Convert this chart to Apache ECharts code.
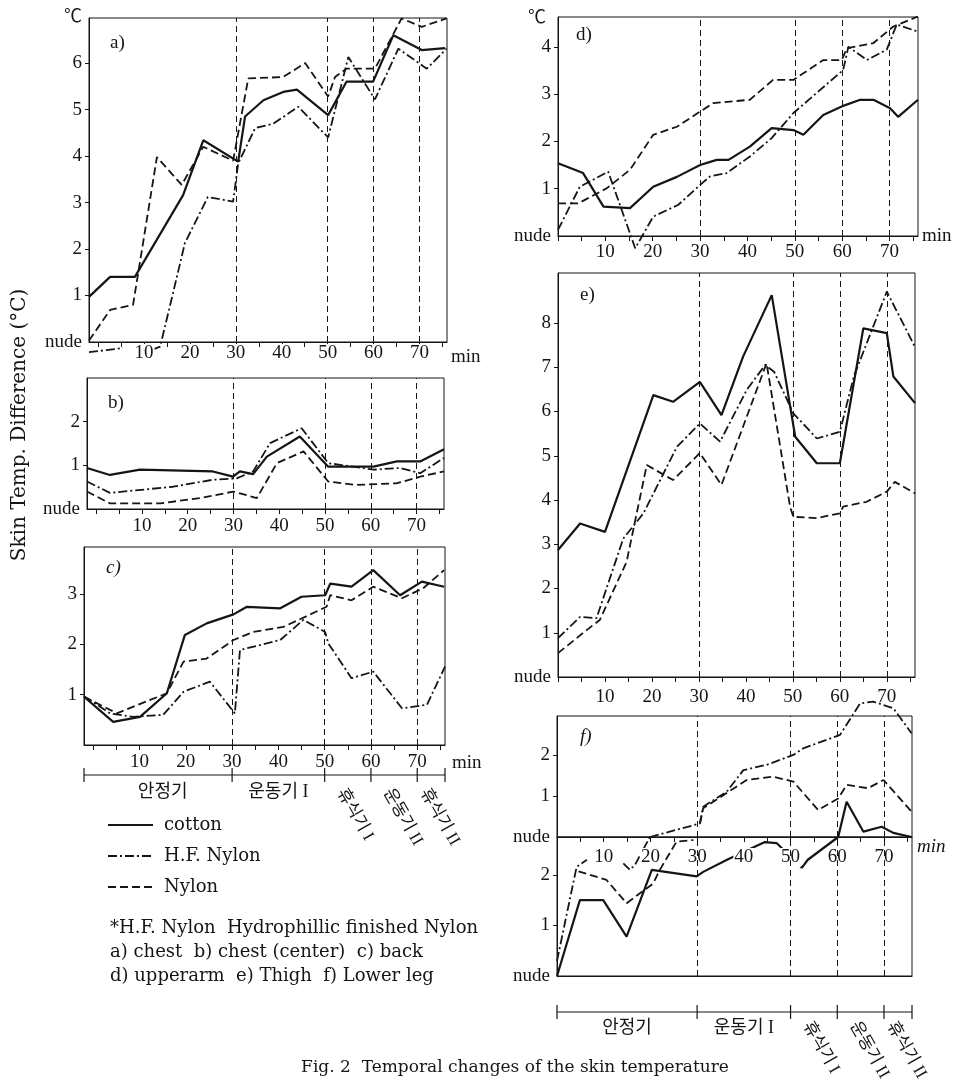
<!DOCTYPE html>
<html><head><meta charset="utf-8">
<script src="https://cdn.jsdelivr.net/npm/echarts@6/dist/echarts.min.js"></script>
<style>html,body{margin:0;padding:0;background:#fff}#c{width:960px;height:1087px}</style>
</head><body><div id="c"></div>
<script>
// ---------- data (minutes, skin temp difference vs nude, deg C) ----------
const xTickValues = [0,5,10,15,20,25,30,35,40,45,50,55,60,65,70,75];
const xLabelValues = [10,20,30,40,50,60,70];
const phaseBounds = [30,50,60,70];
const phaseNames = ['안정기','운동기 I','휴식기 I','운동기 II','휴식기 II'];
const seriesNames = ['cotton','H.F. Nylon','Nylon'];

// a) chest
const aCottonX=[-2,2.6,8,18.5,22.9,30.5,32,36,40.3,43.3,50.1,54.1,59.9,64.3,70.5,75.6];
const aCottonY=[0.97,1.4,1.4,3.16,4.34,3.88,4.85,5.2,5.38,5.43,4.88,5.6,5.6,6.6,6.28,6.32];
const aHfX=[-2,5.4,8,11.7,13.5,16.3,18.9,23.9,29.4,30.5,34.2,38.2,43.6,50.1,54.5,60.3,65.4,71.6,75.9];
const aHfY=[-0.22,-0.13,null,-0.17,-0.1,1.05,2.13,3.12,3.02,3.84,4.6,4.7,5.06,4.4,6.13,5.22,6.31,5.88,6.31];
const aNyX=[-2,2.6,7.6,12.8,18.2,22.9,29.4,32.7,40.3,45.1,50.1,51.6,54.1,60.3,66.1,70.5,75.9];
const aNyY=[0.03,0.69,0.8,3.98,3.38,4.2,3.9,5.67,5.7,6.0,5.28,5.7,5.88,5.88,6.96,6.78,6.96];
// b) chest (center)
const bCottonX=[-2,3,9.6,25.5,29.9,31.4,34.3,37.3,44.5,50.7,60.6,65.7,70.8,76];
const bCottonY=[0.94,0.78,0.9,0.86,0.74,0.86,0.8,1.2,1.66,0.97,0.97,1.09,1.09,1.37];
const bHfX=[-2,3,16.8,25.5,30.7,34.3,38,44.9,50.7,60.6,66.4,70.8,76];
const bHfY=[0.63,0.37,0.51,0.67,0.7,0.86,1.51,1.85,1.05,0.9,0.94,0.82,1.17];
const bNyX=[-2,3,14,22.7,30,35.1,39.5,45.3,50.7,56.9,65.7,70.8,76];
const bNyY=[0.4,0.13,0.13,0.25,0.4,0.25,1.05,1.32,0.63,0.55,0.59,0.74,0.86];
// c) back
const cCottonX=[-2,4.3,10.1,15.9,19.8,24.5,30.3,33.2,40.4,45,50.1,51.2,55.8,60.5,66.3,71,75.8];
const cCottonY=[0.96,0.46,0.56,1.03,2.19,2.42,2.6,2.75,2.72,2.95,2.98,3.21,3.15,3.48,2.98,3.25,3.15];
const cHfX=[-2,3.6,8.6,15.1,19.5,25.2,30.6,31.7,40.4,45.4,50.1,50.8,55.8,60.5,66.7,72.1,76];
const cHfY=[0.97,0.63,0.56,0.6,1.06,1.26,0.63,1.89,2.09,2.49,2.25,2.02,1.33,1.46,0.73,0.8,1.56];
const cNyX=[-2,5.1,15.9,19.5,24.5,30.3,34.6,41.1,50.4,51.2,55.8,60.5,66.7,71.3,75.8];
const cNyY=[0.96,0.63,1.03,1.66,1.72,2.09,2.25,2.35,2.75,2.98,2.88,3.15,2.92,3.12,3.48];
// d) upperarm
const dCottonX=[0,5.3,9.6,15.2,20.1,25.1,30,33.5,36,40.5,45.1,49.7,51.8,56,59.9,63.8,66.6,70.1,71.8,76];
const dCottonY=[1.54,1.33,0.62,0.59,1.04,1.25,1.5,1.61,1.61,1.89,2.28,2.24,2.14,2.56,2.74,2.88,2.88,2.7,2.52,2.88];
const dHfX=[0,4.6,10.6,16.3,20.1,25.4,30,32.1,35.6,40.5,45.1,49.7,60.2,61.3,65.2,69.4,71.5,76];
const dHfY=[0.13,1.04,1.36,-0.26,0.41,0.66,1.08,1.26,1.33,1.68,2.07,2.6,3.51,4.0,3.72,3.94,4.47,4.32];
const dNyX=[0,4.3,10.3,15.2,20.1,25.1,30,32.8,40.5,45.4,49.7,56,59.9,61,66.6,70.8,76];
const dNyY=[0.69,0.69,1.01,1.4,2.14,2.31,2.63,2.81,2.88,3.3,3.3,3.72,3.72,3.97,4.08,4.43,4.64];
// e) thigh
const eCottonX=[0,4.7,10,20.3,24.5,30.2,34.8,39.4,45.5,50.5,55.1,60,65,70,71.4,76];
const eCottonY=[2.87,3.47,3.28,6.37,6.22,6.67,5.92,7.24,8.63,5.43,4.83,4.83,7.88,7.77,6.79,6.19];
const eHfX=[0,4.7,8.2,13.9,18.2,25.3,30.2,34.5,40.2,44.1,46,50.1,55.1,60,63,70,76];
const eHfY=[0.88,1.36,1.33,3.13,3.7,5.2,5.73,5.32,6.49,7.05,6.9,5.96,5.39,5.54,6.8,8.71,7.46];
const eNyX=[0,6.1,8.9,14.6,18.9,24.5,30.2,34.8,44.4,49.4,50.1,55.1,60,60.7,65.7,70,71.7,76];
const eNyY=[0.54,1.06,1.29,2.6,4.79,4.45,5.06,4.34,7.09,3.85,3.62,3.59,3.7,3.85,3.96,4.19,4.41,4.15];
// f) lower leg, upper part
const fCottonX=[60.2,62,65.6,69.5,72,75.9];
const fCottonY=[0,0.86,0.13,0.25,0.1,0];
const fHfX=[19.9,30.6,31.3,36.3,39.9,44.9,50.6,52.7,60.6,64.9,67.7,72,75.9];
const fHfY=[0,0.33,0.74,1.1,1.63,1.76,2.0,2.16,2.49,3.26,3.3,3.14,2.53];
const fNyX=[30.6,31.3,36.3,40.6,46.3,50.6,55.9,60.2,62,66.6,69.9,75.9];
const fNyY=[0.33,0.7,1.07,1.39,1.47,1.35,0.66,0.94,1.27,1.19,1.39,0.62];
// f) lower leg, lower part
const gCottonX=[0,4.9,9.9,14.9,20.3,29.9,31.3,36.4,44.5,47,52.4,53.7,60.2];
const gCottonY=[0,1.5,1.5,0.78,2.1,1.97,2.06,2.3,2.65,2.63,2.14,2.3,2.75];
const gHfX=[0,4.2,6.4,10,14.2,15.6,16.7,19.9];
const gHfY=[0.3,2.16,2.3,null,2.23,2.1,2.2,2.75];
const gNyX=[4.6,10.6,14.9,20.6,22,25.6,29.2];
const gNyY=[2.07,1.9,1.44,1.83,2.1,2.66,2.69];

// y axis ranges / ticks per panel (a,b,c,d,e,f-upper,f-lower)
const yMaxes=[6.97,3.0,3.94,4.63,9.13,2.95,2.75];
const yTickSets=[[0,1,2,3,4,5,6],[0,1,2],[1,2,3],[0,1,2,3,4],[0,1,2,3,4,5,6,7,8],[0,1,2],[0,1,2]];

// ---------- layout / style ----------
const grids=[
 {left:89,top:18,width:358,height:324},
 {left:87,top:378,width:357,height:131},
 {left:84,top:547,width:361,height:198},
 {left:558,top:17,width:360,height:219},
 {left:558,top:273,width:357,height:404},
 {left:557,top:716,width:355,height:121},
 {left:557,top:837,width:355,height:139}
];
const xMargins=[2,8,8,7,11,11,8];
const INK='#151515';
const SERIF='"Liberation Serif", serif';
const SERIF2='"DejaVu Serif", serif';
const KR='"Liberation Serif", "Noto Sans CJK KR", sans-serif';

const zip=(xs,ys)=>xs.map((x,i)=>[x, ys[i]===null?'-':ys[i]]);
const styles=[
 {type:'solid',width:2.2,color:INK},
 {type:[9,3,2,3],width:1.8,color:INK},
 {type:[8,4],width:1.8,color:INK}
];
const panelData=[
 [aCottonX,aCottonY,aHfX,aHfY,aNyX,aNyY],
 [bCottonX,bCottonY,bHfX,bHfY,bNyX,bNyY],
 [cCottonX,cCottonY,cHfX,cHfY,cNyX,cNyY],
 [dCottonX,dCottonY,dHfX,dHfY,dNyX,dNyY],
 [eCottonX,eCottonY,eHfX,eHfY,eNyX,eNyY],
 [fCottonX,fCottonY,fHfX,fHfY,fNyX,fNyY],
 [gCottonX,gCottonY,gHfX,gHfY,gNyX,gNyY]
];

const xAxes=grids.map((g,i)=>({
 type:'value',gridIndex:i,min:i<3?-2:0,max:76,
 z:(i===0||i===5)?4:0,
 axisLine:{show:true,onZero:false,lineStyle:{color:INK,width:1}},
 axisTick:{show:i!==6,inside:false,length:5,customValues:xTickValues,lineStyle:{color:INK,width:1}},
 axisLabel:{show:i!==6,customValues:xLabelValues,margin:xMargins[i],fontFamily:SERIF,fontSize:19,color:INK,
   backgroundColor:(i===0||i===5)?'#fff':'transparent',padding:[0,1]},
 splitLine:{show:false}
}));
const yAxes=grids.map((g,i)=>({
 type:'value',gridIndex:i,min:0,max:yMaxes[i],
 axisLine:{show:true,onZero:false,lineStyle:{color:INK,width:1}},
 axisTick:{show:true,inside:false,length:4,customValues:yTickSets[i].filter(v=>v>0),lineStyle:{color:INK}},
 axisLabel:{customValues:yTickSets[i],margin:7,fontFamily:SERIF,fontSize:19,color:INK,
   formatter:v=>v===0?'nude':String(v)},
 splitLine:{show:false}
}));

const series=[];
panelData.forEach((p,gi)=>{
 for(let k=0;k<3;k++){
  const s={type:'line',name:seriesNames[k],xAxisIndex:gi,yAxisIndex:gi,
   data:zip(p[2*k],p[2*k+1]),symbol:'none',showSymbol:false,clip:false,
   connectNulls:false,lineStyle:styles[k],itemStyle:{color:INK},animation:false,z:3};
  if(k===0){
   s.markLine={silent:true,symbol:['none','none'],animation:false,label:{show:false},
     lineStyle:{type:[6,4],color:INK,width:1},data:phaseBounds.map(v=>({xAxis:v}))};
  }
  series.push(s);
 }
});

const chart=echarts.init(document.getElementById('c'),null,{renderer:'canvas'});
chart.setOption({
 backgroundColor:'#fff',
 animation:false,
 grid:grids.map(g=>Object.assign({show:true,borderColor:INK,borderWidth:1,backgroundColor:'transparent',containLabel:false},g)),
 xAxis:xAxes,yAxis:yAxes,series:series,
 legend:{data:seriesNames,orient:'vertical',left:107,top:816,padding:0,itemWidth:45,itemHeight:14,itemGap:13,
   selectedMode:false,itemStyle:{opacity:0},
   textStyle:{fontFamily:SERIF2,fontSize:18,color:INK,padding:[0,0,0,6]}}
});

// ---------- annotations ----------
const T=(x,y,text,o={})=>({type:'text',x:x,y:y,rotation:o.rot||0,silent:true,z:10,
 style:{text:text,fill:INK,fontFamily:o.ff||SERIF,fontSize:o.fs||19,fontStyle:o.it?'italic':'normal',
   align:o.al||'left',verticalAlign:o.va||'middle'}});
const Ln=(x1,y1,x2,y2)=>({type:'line',silent:true,z:10,shape:{x1:x1,y1:y1,x2:x2,y2:y2},style:{stroke:INK,lineWidth:1.2}});

const g=[];
g.push(T(73,17,'℃',{al:'center',fs:18,ff:KR}));
g.push(T(537,18,'℃',{al:'center',fs:18,ff:KR}));
g.push(T(110,43,'a)'));
g.push(T(108,403,'b)'));
g.push(T(106,568,'c)',{it:true}));
g.push(T(576,35,'d)'));
g.push(T(580,295,'e)'));
g.push(T(580,737,'f)',{it:true}));
g.push(T(451,357,'min'));
g.push(T(452,763,'min'));
g.push(T(922,236,'min'));
g.push(T(917,847,'min',{it:true}));
g.push(T(20,425,'Skin Temp. Difference (°C)',{rot:Math.PI/2,al:'center',ff:SERIF2,fs:20}));
g.push(T(110,928,'*H.F. Nylon  Hydrophillic finished Nylon',{ff:SERIF2,fs:18}));
g.push(T(110,952,'a) chest  b) chest (center)  c) back',{ff:SERIF2,fs:18}));
g.push(T(110,976,'d) upperarm  e) Thigh  f) Lower leg',{ff:SERIF2,fs:18}));
g.push(T(515,1068,'Fig. 2  Temporal changes of the skin temperature',{al:'center',ff:SERIF2,fs:17}));

function timeline(axisIdx,start,y,labY,rotY){
 const P=v=>chart.convertToPixel({xAxisIndex:axisIdx},v);
 const stops=[start].concat(phaseBounds,[76]);
 g.push(Ln(P(start),y,P(76),y));
 stops.forEach(v=>g.push(Ln(P(v),y-7,P(v),y+7)));
 g.push(T((P(0)+P(30))/2,labY,phaseNames[0],{al:'center',ff:KR,fs:18}));
 g.push(T((P(30)+P(50))/2,labY,phaseNames[1],{al:'center',ff:KR,fs:18}));
 const segs=[[50,60],[60,70],[70,76]];
 segs.forEach((s,i)=>g.push(T((P(s[0])+P(s[1]))/2-7,rotY,phaseNames[i+2],{ff:KR,fs:17,rot:-Math.PI/3})));
}
timeline(2,-2,775,792,790);
timeline(6,0,1012,1028,1023);

chart.setOption({graphic:{elements:g}});
</script></body></html>
